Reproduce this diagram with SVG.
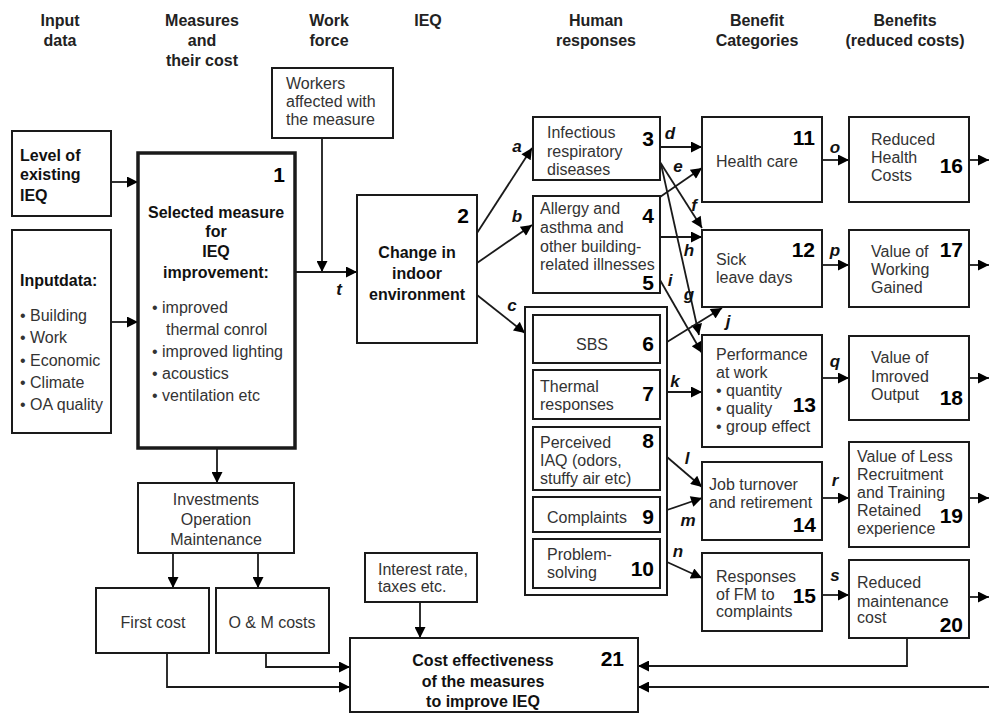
<svg xmlns="http://www.w3.org/2000/svg" width="989" height="715" viewBox="0 0 989 715">
<defs>
<marker id="ah" viewBox="0 0 10 10" refX="10" refY="5" markerWidth="14" markerHeight="11" markerUnits="userSpaceOnUse" orient="auto"><path d="M0,0 L10,5 L0,10 z" fill="#000"/></marker>
</defs>
<style>
.bx{fill:#fff;stroke:#1a1a1a;stroke-width:2}
.thick{stroke-width:3.5}
.t{font-family:"Liberation Sans",Arial,sans-serif;font-size:16px;fill:#333}
.b{font-family:"Liberation Sans",Arial,sans-serif;font-size:16px;font-weight:bold;fill:#111}
.n{font-family:"Liberation Sans",Arial,sans-serif;font-size:21px;font-weight:bold;fill:#000;text-anchor:end}
.h{font-family:"Liberation Sans",Arial,sans-serif;font-size:16px;font-weight:bold;fill:#222;text-anchor:middle}
.c{text-anchor:middle}
.lb{font-family:"Liberation Sans",Arial,sans-serif;font-size:17px;font-weight:bold;font-style:italic;fill:#111;text-anchor:middle}
.cn{fill:none;stroke:#1a1a1a;stroke-width:1.8;marker-end:url(#ah)}
</style>
<rect width="989" height="715" fill="#fff"/>

<g id="headers">
<text class="h" x="60" y="26">Input</text><text class="h" x="60" y="46">data</text>
<text class="h" x="202" y="26">Measures</text><text class="h" x="202" y="46">and</text><text class="h" x="202" y="66">their cost</text>
<text class="h" x="329" y="26">Work</text><text class="h" x="329" y="46">force</text>
<text class="h" x="428" y="26">IEQ</text>
<text class="h" x="596" y="26">Human</text><text class="h" x="596" y="46">responses</text>
<text class="h" x="757" y="26">Benefit</text><text class="h" x="757" y="46">Categories</text>
<text class="h" x="905" y="26">Benefits</text><text class="h" x="905" y="46">(reduced costs)</text>
</g>

<g id="connectors">
<path class="cn" d="M111,182 H138"/>
<path class="cn" d="M111,322 H138"/>
<path class="cn" d="M322,138 V272"/>
<path class="cn" d="M295,272 H357"/>
<path class="cn" d="M477,233 L532,148"/>
<path class="cn" d="M477,263 L532,225"/>
<path class="cn" d="M477,295 L525,333"/>
<path class="cn" d="M660,147 H702"/>
<path class="cn" d="M660,197 L702,168"/>
<path class="cn" d="M660,162 L702,228"/>
<path class="cn" d="M661,164 L699,335"/>
<path class="cn" d="M660,237 H702"/>
<path class="cn" d="M660,280 L702,353"/>
<path class="cn" d="M667,342 L722,308"/>
<path class="cn" d="M667,392 H702"/>
<path class="cn" d="M667,457 L702,487"/>
<path class="cn" d="M667,510 L702,498"/>
<path class="cn" d="M667,562 L702,578"/>
<path class="cn" d="M822,160 H849"/>
<path class="cn" d="M822,265 H849"/>
<path class="cn" d="M822,378 H849"/>
<path class="cn" d="M822,498 H849"/>
<path class="cn" d="M822,595 H849"/>
<path class="cn" d="M969,160 H989"/>
<path class="cn" d="M969,265 H989"/>
<path class="cn" d="M969,378 H989"/>
<path class="cn" d="M969,498 H989"/>
<path class="cn" d="M969,597 H989"/>
<path class="cn" d="M217,448 V483"/>
<path class="cn" d="M173,553 V588"/>
<path class="cn" d="M258,553 V588"/>
<path class="cn" d="M266,653 V667 H350"/>
<path class="cn" d="M167,653 V687 H350"/>
<path class="cn" d="M420,602 V638"/>
<path class="cn" d="M907,638 V666 H638"/>
<path class="cn" d="M989,687 H638"/>
<text class="lb" x="339" y="295">t</text>
<text class="lb" x="517" y="152">a</text>
<text class="lb" x="517" y="222">b</text>
<text class="lb" x="512" y="311">c</text>
<text class="lb" x="670" y="139">d</text>
<text class="lb" x="678" y="172">e</text>
<text class="lb" x="694" y="211">f</text>
<text class="lb" x="689" y="256">h</text>
<text class="lb" x="689" y="300">g</text>
<text class="lb" x="670" y="286">i</text>
<text class="lb" x="728" y="327">j</text>
<text class="lb" x="675" y="387">k</text>
<text class="lb" x="687" y="464">l</text>
<text class="lb" x="688" y="526">m</text>
<text class="lb" x="678" y="557">n</text>
<text class="lb" x="835" y="153">o</text>
<text class="lb" x="835" y="256">p</text>
<text class="lb" x="835" y="367">q</text>
<text class="lb" x="835" y="486">r</text>
<text class="lb" x="835" y="581">s</text>
</g>

<g id="n-level">
<rect class="bx" x="12" y="131" width="99" height="85"/>
<text class="b" x="20" y="161">Level of</text><text class="b" x="20" y="180">existing</text><text class="b" x="20" y="201">IEQ</text>
</g>

<g id="n-inputdata">
<rect class="bx" x="12" y="230" width="99" height="203"/>
<text class="b" x="20" y="286">Inputdata:</text>
<text class="t" x="20" y="321">• Building</text>
<text class="t" x="20" y="343">• Work</text>
<text class="t" x="20" y="366">• Economic</text>
<text class="t" x="20" y="388">• Climate</text>
<text class="t" x="20" y="410">• OA quality</text>
</g>

<g id="n1">
<rect class="bx thick" x="138" y="153" width="157" height="295"/>
<text class="n" x="285" y="182">1</text>
<text class="b c" x="216" y="218">Selected measure</text>
<text class="b c" x="216" y="237">for</text>
<text class="b c" x="216" y="257">IEQ</text>
<text class="b c" x="216" y="278">improvement:</text>
<text class="t" x="152" y="313">• improved</text>
<text class="t" x="166" y="335">thermal conrol</text>
<text class="t" x="152" y="357">• improved lighting</text>
<text class="t" x="152" y="379">• acoustics</text>
<text class="t" x="152" y="401">• ventilation etc</text>
</g>

<g id="n-workers">
<rect class="bx" x="272" y="68" width="121" height="70"/>
<text class="t" x="286" y="89">Workers</text><text class="t" x="286" y="107">affected with</text><text class="t" x="286" y="125">the measure</text>
</g>

<g id="n2">
<rect class="bx" x="357" y="195" width="120" height="148"/>
<text class="n" x="469" y="223">2</text>
<text class="b c" x="417" y="258">Change in</text>
<text class="b c" x="417" y="279">indoor</text>
<text class="b c" x="417" y="300">environment</text>
</g>

<g id="n3">
<rect class="bx" x="533" y="117" width="127" height="63"/>
<text class="t" x="547" y="138">Infectious</text><text class="t" x="547" y="157">respiratory</text><text class="t" x="547" y="175">diseases</text>
<text class="n" x="654" y="146">3</text>
</g>

<g id="n4-5">
<rect class="bx" x="533" y="196" width="127" height="97"/>
<text class="t" x="540" y="214">Allergy and</text><text class="t" x="540" y="233">asthma and</text><text class="t" x="540" y="252">other building-</text><text class="t" x="540" y="270">related illnesses</text>
<text class="n" x="654" y="223">4</text>
<text class="n" x="654" y="290">5</text>
</g>

<g id="n6-10">
<rect class="bx" x="525" y="307" width="142" height="288"/>
<g id="n6"><rect class="bx" x="533" y="315" width="127" height="48"/>
<text class="t c" x="592" y="350">SBS</text><text class="n" x="654" y="351">6</text></g>
<g id="n7"><rect class="bx" x="533" y="370" width="127" height="49"/>
<text class="t" x="540" y="392">Thermal</text><text class="t" x="540" y="410">responses</text><text class="n" x="654" y="401">7</text></g>
<g id="n8"><rect class="bx" x="533" y="427" width="127" height="63"/>
<text class="t" x="540" y="448">Perceived</text><text class="t" x="540" y="466">IAQ (odors,</text><text class="t" x="540" y="484">stuffy air etc)</text><text class="n" x="654" y="448">8</text></g>
<g id="n9"><rect class="bx" x="533" y="497" width="127" height="35"/>
<text class="t" x="547" y="523">Complaints</text><text class="n" x="654" y="524">9</text></g>
<g id="n10"><rect class="bx" x="533" y="539" width="127" height="49"/>
<text class="t" x="547" y="560">Problem-</text><text class="t" x="547" y="578">solving</text><text class="n" x="654" y="576">10</text></g>
</g>

<g id="n11">
<rect class="bx" x="702" y="117" width="120" height="85"/>
<text class="n" x="815" y="145">11</text><text class="t" x="716" y="167">Health care</text>
</g>
<g id="n12">
<rect class="bx" x="702" y="230" width="120" height="77"/>
<text class="n" x="815" y="257">12</text><text class="t" x="716" y="265">Sick</text><text class="t" x="716" y="283">leave days</text>
</g>
<g id="n13">
<rect class="bx" x="702" y="335" width="120" height="112"/>
<text class="t" x="716" y="360">Performance</text><text class="t" x="716" y="378">at work</text>
<text class="t" x="716" y="396">• quantity</text><text class="t" x="716" y="414">• quality</text><text class="t" x="716" y="432">• group effect</text>
<text class="n" x="816" y="412">13</text>
</g>
<g id="n14">
<rect class="bx" x="702" y="462" width="120" height="78"/>
<text class="t" x="709" y="490">Job turnover</text><text class="t" x="709" y="508">and retirement</text>
<text class="n" x="816" y="532">14</text>
</g>
<g id="n15">
<rect class="bx" x="702" y="553" width="120" height="78"/>
<text class="t" x="716" y="582">Responses</text><text class="t" x="716" y="600">of FM to</text><text class="t" x="716" y="617">complaints</text>
<text class="n" x="816" y="603">15</text>
</g>

<g id="n16">
<rect class="bx" x="849" y="117" width="120" height="85"/>
<text class="t" x="871" y="145">Reduced</text><text class="t" x="871" y="163">Health</text><text class="t" x="871" y="181">Costs</text>
<text class="n" x="963" y="173">16</text>
</g>
<g id="n17">
<rect class="bx" x="849" y="230" width="120" height="77"/>
<text class="t" x="871" y="257">Value of</text><text class="t" x="871" y="275">Working</text><text class="t" x="871" y="293">Gained</text>
<text class="n" x="963" y="257">17</text>
</g>
<g id="n18">
<rect class="bx" x="849" y="336" width="120" height="84"/>
<text class="t" x="871" y="363">Value of</text><text class="t" x="871" y="382">Imroved</text><text class="t" x="871" y="400">Output</text>
<text class="n" x="963" y="405">18</text>
</g>
<g id="n19">
<rect class="bx" x="849" y="442" width="120" height="105"/>
<text class="t" x="857" y="462">Value of Less</text><text class="t" x="857" y="480">Recruitment</text><text class="t" x="857" y="498">and Training</text><text class="t" x="857" y="516">Retained</text><text class="t" x="857" y="534">experience</text>
<text class="n" x="963" y="523">19</text>
</g>
<g id="n20">
<rect class="bx" x="849" y="560" width="120" height="78"/>
<text class="t" x="857" y="588">Reduced</text><text class="t" x="857" y="607">maintenance</text><text class="t" x="857" y="623">cost</text>
<text class="n" x="963" y="632">20</text>
</g>

<g id="n-invest">
<rect class="bx" x="138" y="483" width="156" height="70"/>
<text class="t c" x="216" y="505">Investments</text><text class="t c" x="216" y="525">Operation</text><text class="t c" x="216" y="545">Maintenance</text>
</g>
<g id="n-first">
<rect class="bx" x="96" y="588" width="113" height="65"/>
<text class="t c" x="153" y="628">First cost</text>
</g>
<g id="n-om">
<rect class="bx" x="216" y="588" width="113" height="65"/>
<text class="t c" x="272" y="628">O &amp; M costs</text>
</g>
<g id="n-interest">
<rect class="bx" x="365" y="553" width="112" height="49"/>
<text class="t" x="378" y="575">Interest rate,</text><text class="t" x="378" y="592">taxes etc.</text>
</g>
<g id="n21">
<rect class="bx" x="350" y="638" width="288" height="74"/>
<text class="b c" x="483" y="666">Cost effectiveness</text>
<text class="b c" x="483" y="687">of the measures</text>
<text class="b c" x="483" y="707">to improve IEQ</text>
<text class="n" x="624" y="666">21</text>
</g>
</svg>
